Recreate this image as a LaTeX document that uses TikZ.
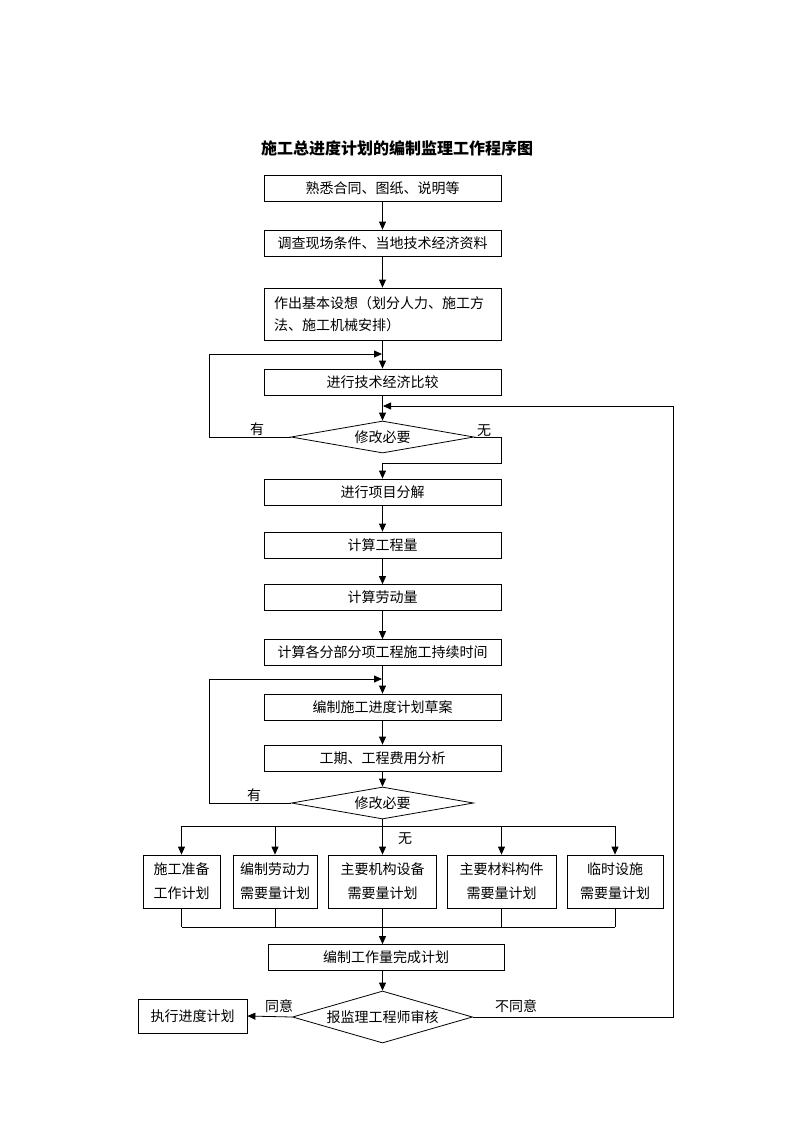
\documentclass[tikz,border=0pt]{standalone}
\usepackage{fontspec}
\newfontfamily\cjk{Noto Sans CJK SC}
\usetikzlibrary{shapes.geometric,arrows.meta}
\begin{document}
\begin{tikzpicture}[x=1pt,y=-1pt,
  every node/.style={font=\cjk\fontsize{14}{22}\selectfont, inner sep=0pt},
  box/.style={draw, line width=0.8pt, rectangle, minimum width=237pt, minimum height=26pt},
  rowbox/.style={draw, line width=0.8pt, rectangle, minimum height=53pt, align=center, font=\cjk\fontsize{14}{24}\selectfont},
  dia/.style={draw, diamond, line width=0.8pt, aspect=5},
  lbl/.style={font=\cjk\fontsize{14}{16}\selectfont},
  line/.style={line width=0.8pt},
  arr/.style={line width=0.8pt, -{Triangle[length=8pt,width=7pt]}},
]
\useasboundingbox (0,0) rectangle (793,1122);

\node[font=\cjk\bfseries\fontsize{16}{20}\selectfont] (title) at (397,148) {施工总进度计划的编制监理工作程序图};

\node[box] (b1) at (382.5,188) {熟悉合同、图纸、说明等};
\node[box] (b2) at (382.5,243) {调查现场条件、当地技术经济资料};
\node[box, minimum height=52pt, text width=217pt, inner xsep=10pt, align=left] (b3) at (382.5,314) {作出基本设想（划分人力、施工方\\法、施工机械安排）};
\node[box] (b4) at (382.5,382) {进行技术经济比较};
\node[dia, minimum width=183pt, minimum height=32pt] (d1) at (382.5,437) {修改必要};
\node[box] (b5) at (382.5,492) {进行项目分解};
\node[box] (b6) at (382.5,545) {计算工程量};
\node[box] (b7) at (382.5,597.5) {计算劳动量};
\node[box] (b8) at (382.5,652.5) {计算各分部分项工程施工持续时间};
\node[box] (b9) at (382.5,707) {编制施工进度计划草案};
\node[box] (b10) at (382.5,758) {工期、工程费用分析};
\node[dia, minimum width=182pt, minimum height=32pt] (d2) at (382.5,803) {修改必要};

\node[rowbox, minimum width=77pt] (rA) at (181.5,881.5) {施工准备\\工作计划};
\node[rowbox, minimum width=84pt] (rB) at (275,881.5) {编制劳动力\\需要量计划};
\node[rowbox, minimum width=108pt] (rC) at (382.5,881.5) {主要机构设备\\需要量计划};
\node[rowbox, minimum width=109pt] (rD) at (501.5,881.5) {主要材料构件\\需要量计划};
\node[rowbox, minimum width=96pt] (rE) at (615,881.5) {临时设施\\需要量计划};

\node[box, minimum width=236pt] (b11) at (386,957.5) {编制工作量完成计划};
\node[dia, minimum width=180pt, minimum height=52pt] (d3) at (382.5,1017) {报监理工程师审核};
\node[box, minimum width=109pt, minimum height=34pt] (bx) at (192.5,1016) {执行进度计划};

\node[lbl] (l1) at (257,429) {有};
\node[lbl] (l2) at (484,431) {无};
\node[lbl] (l3) at (254,795) {有};
\node[lbl] (l4) at (405,839) {无};
\node[lbl] (l5) at (279,1006) {同意};
\node[lbl] (l6) at (516,1006) {不同意};

\coordinate (c1) at (209,354);
\coordinate (j1) at (382,354);
\coordinate (c2) at (673,406);
\coordinate (j2) at (383,406);
\coordinate (c3) at (501,463);
\coordinate (c4) at (209,679);
\coordinate (j3) at (382,679);
\coordinate (bus1) at (382.5,826);
\coordinate (bus2) at (382.5,927);

\draw[arr] (b1) -- (b2);
\draw[arr] (b2) -- (b3);
\draw[arr] (b3) -- (b4);
\draw[arr] (d1.west) -| (c1) -- (j1);
\draw[arr] (b4) -- (d1);
\draw[arr] (d3.east) -| (c2) -- (j2);
\draw[arr] (d1.east) -| (c3) -| (b5.north);
\draw[arr] (b5) -- (b6);
\draw[arr] (b6) -- (b7);
\draw[arr] (b7) -- (b8);
\draw[arr] (b8) -- (b9);
\draw[arr] (d2.west) -| (c4) -- (j3);
\draw[arr] (b9) -- (b10);
\draw[arr] (b10) -- (d2);
\draw[line] (d2.south) -- (bus1);
\draw[line] (rA.north |- bus1) -- (rE.north |- bus1);
\foreach \n in {rA,rB,rC,rD,rE} {
  \draw[arr] (\n.north |- bus1) -- (\n.north);
  \draw[line] (\n.south) -- (\n.south |- bus2);
}
\draw[line] (rA.south |- bus2) -- (rE.south |- bus2);
\draw[arr] (bus2) -- (bus2 |- b11.north);
\draw[arr] (b11.south -| d3.north) -- (d3.north);
\draw[arr] (d3.west) -- (bx.east);
\end{tikzpicture}
\end{document}
